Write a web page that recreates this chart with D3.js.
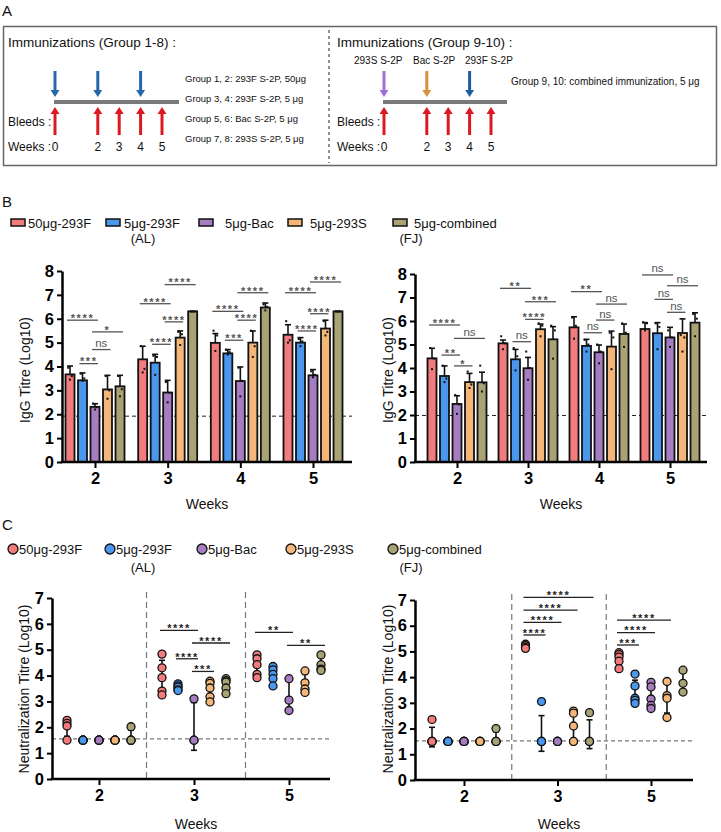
<!DOCTYPE html>
<html><head><meta charset="utf-8">
<script src="https://cdn.jsdelivr.net/npm/d3@7"></script>
<style>body{margin:0;background:#fff}svg{display:block;font-family:"Liberation Sans",Arial,sans-serif}</style>
</head><body><svg id="c" width="721" height="832"></svg>
<script>
// ---------- DATA ----------
const groups = ["50μg-293F","5μg-293F","5μg-Bac","5μg-293S","5μg-combined"];
const colors = ["#f27b7d","#4a97ee","#a67dc1","#f5b679","#a9a275"];
const igWeeks = ["2","3","4","5"];
const neutWeeks = ["2","3","5"];
const yTicksIg = [0,1,2,3,4,5,6,7,8];
const yTicksNeut = [0,1,2,3,4,5,6,7];

// IgG titre (Log10) – mean and upper error per [week][group]
const alMean = [[3.67,3.42,2.31,3.04,3.17],[4.30,4.16,2.91,5.21,6.31],[4.99,4.55,3.39,5.00,6.47],[5.33,5.00,3.63,5.59,6.31]];
const alErr  = [[4.02,3.73,2.44,3.63,3.63],[4.85,4.51,3.42,5.49,6.31],[5.38,4.71,3.98,5.49,6.66],[5.75,5.21,3.87,5.94,6.31]];
const alDots = [
 [[3.95,3.6,3.45],[3.7,3.5,3.4],[2.45,2.3,2.2],[3.6,3.0,2.65],[3.6,3.05,2.75]],
 [[4.85,3.9,3.75],[4.45,4.4,3.65],[3.35,2.9,2.5],[5.45,5.35,4.9],[6.3,6.3,6.3]],
 [[5.5,5.3,4.65],[4.7,4.6,4.5],[3.95,3.4,2.75],[5.5,4.85,4.4],[6.6,6.5,6.35]],
 [[5.9,5.1,5.0],[5.15,5.05,4.85],[3.8,3.65,3.55],[5.9,5.45,5.3],[6.3,6.3,6.3]]];
const fjMean = [[4.41,3.66,2.47,3.40,3.39],[5.05,4.37,3.99,5.65,5.22],[5.73,4.94,4.67,4.91,5.45],[5.66,5.48,5.30,5.49,5.93]];
const fjErr  = [[4.84,4.09,2.82,3.77,3.82],[5.19,4.79,4.45,5.87,5.76],[6.18,5.22,4.98,5.57,5.87],[5.93,5.93,5.73,6.09,6.35]];
const fjDots = [
 [[4.85,4.4,3.95],[4.1,3.55,3.4],[2.85,2.45,2.05],[3.85,3.3,3.15],[4.1,3.35,3.0]],
 [[5.35,5.05,4.8],[4.85,4.5,3.9],[4.7,4.0,3.5],[5.9,5.8,5.35],[5.8,5.6,4.4]],
 [[6.15,5.8,5.25],[5.2,5.0,4.7],[5.0,4.7,4.2],[5.5,5.3,3.95],[5.9,5.5,4.9]],
 [[5.95,5.9,5.6],[5.9,5.75,4.8],[5.6,5.3,4.9],[5.4,5.3,4.7],[6.3,6.1,5.35]]];
// significance brackets: [weekIndex, groupFrom, groupTo, height, label]
const alBrk = [[0,0,2,5.94,"****"],[0,1,2,4.12,"***"],[0,2,3,4.71,"ns"],[0,2,4,5.45,"*"],
 [1,0,2,6.63,"****"],[1,2,4,7.43,"****"],[1,2,3,5.87,"****"],[1,1,2,4.93,"****"],
 [2,0,2,6.31,"****"],[2,2,4,7.09,"****"],[2,2,3,5.94,"****"],[2,1,2,5.10,"***"],
 [3,0,2,7.09,"****"],[3,2,4,7.54,"****"],[3,2,3,6.21,"****"],[3,1,2,5.49,"****"]];
const fjBrk = [[0,0,2,5.83,"****"],[0,1,2,4.55,"**"],[0,2,3,4.09,"*"],[0,2,4,5.26,"ns"],
 [1,0,2,7.39,"**"],[1,2,4,6.82,"***"],[1,2,3,6.07,"****"],[1,1,2,5.12,"ns"],
 [2,0,2,7.25,"**"],[2,2,4,6.72,"ns"],[2,2,3,6.04,"ns"],[2,1,2,5.50,"ns"],
 [3,0,2,7.96,"ns"],[3,2,4,7.50,"ns"],[3,1,2,6.92,"ns"],[3,2,3,6.37,"ns"]];

// Neutralization titre (Log10) individual values per [week][group]
const alNeut = [
 [[2.27,2.15,2.05,1.5],[1.5,1.5,1.5,1.5,1.5],[1.5,1.5,1.5,1.5,1.5],[1.5,1.5,1.5,1.5,1.5],[2.02,1.5,1.5,1.5]],
 [[4.83,4.3,3.92,3.4,3.25],[3.68,3.6,3.55,3.45,3.42],[3.1,1.5,1.5],[3.78,3.7,3.52,3.18,2.98],[3.88,3.8,3.75,3.52,3.3]],
 [[4.8,4.65,4.42,4.05,3.92],[4.35,4.22,4.05,3.88,3.6],[3.88,3.05,2.65],[4.18,3.72,3.48,3.35],[4.8,4.42,4.25,4.2]]];
const fjNeut = [
 [[2.35,1.5,1.5,1.5,1.5],[1.5,1.5,1.5,1.5,1.5],[1.5,1.5,1.5,1.5,1.5],[1.5,1.5,1.5,1.5,1.5],[2.0,1.5,1.5,1.5]],
 [[5.28,5.22,5.15,5.12],[3.05,1.5,1.5,1.5,1.5],[1.5,1.5,1.5,1.5,1.5],[2.68,2.6,2.1,1.5,1.5],[2.62,1.5,1.5,1.5]],
 [[4.95,4.88,4.78,4.62,4.33],[4.12,3.66,3.18,3.1,2.98],[3.8,3.62,3.15,2.9,2.78],[3.83,3.28,3.18,2.43],[4.27,3.76,3.42]]];
const alNeutBrk = [[1,0,2,5.75,"****"],[1,2,4,5.26,"****"],[1,1,2,4.65,"****"],[1,2,3,4.16,"***"],[2,0,2,5.67,"**"],[2,2,4,5.17,"**"]];
const fjNeutBrk = [[1,0,4,7.10,"****"],[1,0,3,6.61,"****"],[1,0,2,6.13,"****"],[1,0,1,5.64,"****"],[2,0,3,6.22,"****"],[2,0,2,5.73,"****"],[2,0,1,5.25,"***"]];

// Schedule (panel A)
const schedWeeks = [0,2,3,4,5];
const immWeeksA = [0,2,4];
const groupTexts = ["Group 1, 2: 293F S-2P, 50μg","Group 3, 4: 293F S-2P, 5 μg","Group 5, 6: Bac S-2P, 5 μg","Group 7, 8: 293S S-2P, 5 μg"];
const immB = [{w:0,label:"293S S-2P",color:"#a070d8"},{w:2,label:"Bac S-2P",color:"#d8913f"},{w:4,label:"293F S-2P",color:"#1f5e9e"}];

// ---------- DRAW ----------
const svg = d3.select("#c");
const FONT = '"Liberation Sans",Arial,sans-serif';
function txt(g,x,y,s,size,opt={}){
  const t=g.append("text").attr("x",x).attr("y",y).text(s).attr("font-size",size).attr("fill",opt.fill||"#111");
  if(opt.anchor)t.attr("text-anchor",opt.anchor);
  if(opt.weight)t.attr("font-weight",opt.weight);
  if(opt.rotate)t.attr("transform",`rotate(-90,${x},${y})`);
  return t;
}

// ----- Panel A -----
const A = svg.append("g");
txt(A,2,16,"A",15);
A.append("rect").attr("x",3.5).attr("y",26.5).attr("width",713).attr("height",139).attr("fill","none").attr("stroke","#666").attr("stroke-width",1.5);
A.append("line").attr("x1",329).attr("x2",329).attr("y1",30).attr("y2",163).attr("stroke","#222").attr("stroke-dasharray","3,3").attr("stroke-width",1);

function arrow(g,x,yBase,yTip,color){
  const dir = yTip>yBase?1:-1;
  g.append("line").attr("x1",x).attr("x2",x).attr("y1",yBase).attr("y2",yTip-dir*5).attr("stroke",color).attr("stroke-width",3);
  g.append("path").attr("d",`M${x-4.5},${yTip-dir*7}L${x+4.5},${yTip-dir*7}L${x},${yTip}Z`).attr("fill",color);
}
function schedule(g,x0,x5,immList,barEnd){
  const xs=d3.scaleLinear().domain([0,5]).range([x0,x5]);
  g.append("line").attr("x1",xs(0)-1).attr("x2",barEnd).attr("y1",102).attr("y2",102).attr("stroke","#7a7a7a").attr("stroke-width",4);
  immList.forEach(d=>arrow(g,xs(d.w),71,97,d.color));
  schedWeeks.forEach(w=>{arrow(g,xs(w),135,107,"#dc1820");txt(g,xs(w),151,String(w),12,{anchor:"middle"});});
  return xs;
}
txt(A,8,47,"Immunizations (Group 1-8) :",13.5);
txt(A,8,126,"Bleeds :",12);
txt(A,8,151,"Weeks :",12);
schedule(A,55,162,immWeeksA.map(w=>({w,color:"#2468aa"})),179);
groupTexts.forEach((s,i)=>txt(A,185,82+i*20,s,9.5));

txt(A,337,47,"Immunizations (Group 9-10) :",13.5);
txt(A,337,126,"Bleeds :",12);
txt(A,337,151,"Weeks :",12);
schedule(A,384,491,immB,507);
const immLabelX=[354,413,465];
immB.forEach((d,i)=>txt(A,immLabelX[i],64,d.label,10));
txt(A,511,85,"Group 9, 10: combined immunization, 5 μg",10);

// ----- Panel B -----
const B = svg.append("g");
txt(B,2,207,"B",15);
const legBX=[11,106,199,288,393], legBT=[28,124,225,310,414];
groups.forEach((gname,i)=>{
  B.append("rect").attr("x",legBX[i]).attr("y",219).attr("width",14).attr("height",7).attr("fill",colors[i]).attr("stroke","#111").attr("stroke-width",1.5);
  txt(B,legBT[i],228,gname,13);
});
txt(B,143,243,"(AL)",13,{anchor:"middle"});
txt(B,411,243,"(FJ)",13,{anchor:"middle"});

function styleAxis(sel,size){
  sel.select(".domain").attr("stroke","#000").attr("stroke-width",2.5);
  sel.selectAll(".tick line").attr("stroke","#000").attr("stroke-width",2);
  sel.selectAll(".tick text").attr("font-size",size).attr("font-weight","bold").attr("fill","#000").attr("font-family",FONT);
}
function bracket(g,x1,x2,yy,label,col){
  g.append("line").attr("x1",x1).attr("x2",x2).attr("y1",yy).attr("y2",yy).attr("stroke",col).attr("stroke-width",1.3);
  const isStar = label.indexOf("*")>=0;
  const t = txt(g,(x1+x2)/2,isStar?yy+1.8:yy-2.5,label,isStar?11:11.5,{anchor:"middle",fill:col});
  if(isStar) t.attr("letter-spacing",1.6).attr("font-weight","bold");
}

function barChart(o){
  const g = svg.append("g");
  const y = d3.scaleLinear().domain([0,8]).range([o.yBottom,o.yTop]);
  const x = d3.scalePoint().domain(igWeeks).range([o.xFirst,o.xLast]);
  const off = d3.scalePoint().domain(d3.range(5)).range([-25,25]);
  const bw = 9;
  g.append("line").attr("x1",o.axisX).attr("x2",o.axisEnd).attr("y1",y(o.lod)).attr("y2",y(o.lod)).attr("stroke","#222").attr("stroke-width",1).attr("stroke-dasharray","4,3");
  igWeeks.forEach((w,wi)=>{
    groups.forEach((gn,gi)=>{
      const cx = x(w)+off(gi), m=o.mean[wi][gi], e=o.err[wi][gi];
      g.append("line").attr("x1",cx).attr("x2",cx).attr("y1",y(m)).attr("y2",y(e)).attr("stroke","#111").attr("stroke-width",1.6);
      g.append("line").attr("x1",cx-3).attr("x2",cx+3).attr("y1",y(e)).attr("y2",y(e)).attr("stroke","#111").attr("stroke-width",1.6);
      g.append("rect").attr("x",cx-bw/2).attr("y",y(m)).attr("width",bw).attr("height",y(0)-y(m)).attr("fill",colors[gi]).attr("stroke","#111").attr("stroke-width",1.8);
      const jit=[-1.8,1.8,0];
      o.dots[wi][gi].forEach((v,k)=>g.append("rect").attr("x",cx+jit[k]-1).attr("y",y(v)-1).attr("width",2).attr("height",2).attr("fill","#111"));
    });
  });
  o.brk.forEach(b=>{
    const w=igWeeks[b[0]];
    bracket(g,x(w)+off(b[1])-3,x(w)+off(b[2])+3,y(b[3]),b[4],"#555");
  });
  const ya = g.append("g").attr("transform",`translate(${o.axisX},0)`).call(d3.axisLeft(y).tickValues(yTicksIg).tickFormat(d3.format("d")).tickSize(5).tickSizeOuter(0).tickPadding(3));
  styleAxis(ya,16.5);
  const xa = g.append("g").attr("transform",`translate(0,${o.yBottom})`).call(d3.axisBottom(x).tickSize(6).tickPadding(4));
  xa.select(".domain").remove();
  styleAxis(xa,16.5);
  g.append("line").attr("x1",o.axisX-1.25).attr("x2",o.axisEnd).attr("y1",o.yBottom).attr("y2",o.yBottom).attr("stroke","#000").attr("stroke-width",2.5);
  txt(g,(o.axisX+o.axisEnd)/2,509,"Weeks",14,{anchor:"middle"});
  txt(g,o.labelX,370,"IgG Titre (Log10)",14,{anchor:"middle",rotate:true});
}
barChart({yBottom:462,yTop:271,xFirst:95,xLast:313,axisX:62,axisEnd:352,lod:1.92,mean:alMean,err:alErr,dots:alDots,brk:alBrk,labelX:30});
barChart({yBottom:462,yTop:274,xFirst:457,xLast:670,axisX:415,axisEnd:707,lod:1.98,mean:fjMean,err:fjErr,dots:fjDots,brk:fjBrk,labelX:393});

// ----- Panel C -----
const C = svg.append("g");
txt(C,2,530,"C",15);
const legCX=[13,110,202,291,393];
groups.forEach((gname,i)=>{
  C.append("circle").attr("cx",legCX[i]).attr("cy",549).attr("r",5).attr("fill",colors[i]).attr("stroke","#111").attr("stroke-width",1.3);
  txt(C,legCX[i]+6,554,gname,13);
});
txt(C,143,572,"(AL)",13,{anchor:"middle"});
txt(C,411,572,"(FJ)",13,{anchor:"middle"});

function neutChart(o){
  const g = svg.append("g");
  const y = d3.scaleLinear().domain([0,7]).range([o.yBottom,o.yTop]);
  const x = d3.scalePoint().domain(neutWeeks).range([o.xFirst,o.xLast]);
  const off = d3.scalePoint().domain(d3.range(5)).range([-32,32]);
  for(let i=0;i<neutWeeks.length-1;i++){
    const sx=(x(neutWeeks[i])+x(neutWeeks[i+1]))/2+o.sepShift[i];
    g.append("line").attr("x1",sx).attr("x2",sx).attr("y1",o.yTop-6).attr("y2",o.yBottom).attr("stroke","#777").attr("stroke-width",1.2).attr("stroke-dasharray","6,4");
  }
  g.append("line").attr("x1",o.axisX).attr("x2",o.axisEnd).attr("y1",y(o.lod)).attr("y2",y(o.lod)).attr("stroke","#777").attr("stroke-width",1.2).attr("stroke-dasharray","4,3");
  neutWeeks.forEach((w,wi)=>{
    groups.forEach((gn,gi)=>{
      const cx=x(w)+off(gi), vals=o.data[wi][gi];
      const m=d3.mean(vals), sd=d3.deviation(vals)||0;
      if(sd>0){
        g.append("line").attr("x1",cx).attr("x2",cx).attr("y1",y(m-sd)).attr("y2",y(m+sd)).attr("stroke","#111").attr("stroke-width",1.6);
        [m-sd,m+sd].forEach(v=>g.append("line").attr("x1",cx-3).attr("x2",cx+3).attr("y1",y(v)).attr("y2",y(v)).attr("stroke","#111").attr("stroke-width",1.6));
      }
      vals.forEach(v=>g.append("circle").attr("cx",cx).attr("cy",y(v)).attr("r",4).attr("fill",colors[gi]).attr("stroke","#111").attr("stroke-width",1.3));
    });
  });
  o.brk.forEach(b=>{
    const w=neutWeeks[b[0]];
    bracket(g,x(w)+off(b[1])-2,x(w)+off(b[2])+4,y(b[3]),b[4],"#222");
  });
  const ya = g.append("g").attr("transform",`translate(${o.axisX},0)`).call(d3.axisLeft(y).tickValues(yTicksNeut).tickFormat(d3.format("d")).tickSize(5).tickSizeOuter(0).tickPadding(3));
  styleAxis(ya,16.5);
  const xa = g.append("g").attr("transform",`translate(0,${o.yBottom})`).call(d3.axisBottom(x).tickSize(6).tickPadding(5));
  xa.select(".domain").remove();
  styleAxis(xa,16);
  g.append("line").attr("x1",o.axisX-1.25).attr("x2",o.axisEnd).attr("y1",o.yBottom).attr("y2",o.yBottom).attr("stroke","#000").attr("stroke-width",2.5);
  txt(g,(o.axisX+o.axisEnd)/2+5,829,"Weeks",14,{anchor:"middle"});
  txt(g,o.labelX,689,"Neutralization Titre (Log10)",14,{anchor:"middle",rotate:true});
}
neutChart({yBottom:779,yTop:598,xFirst:99,xLast:289,axisX:52,axisEnd:330,lod:1.55,data:alNeut,brk:alNeutBrk,labelX:29,sepShift:[0,4]});
neutChart({yBottom:780,yTop:600,xFirst:464,xLast:651,axisX:415,axisEnd:693,lod:1.52,data:fjNeut,brk:fjNeutBrk,labelX:393,sepShift:[1,2]});
</script></body></html>
